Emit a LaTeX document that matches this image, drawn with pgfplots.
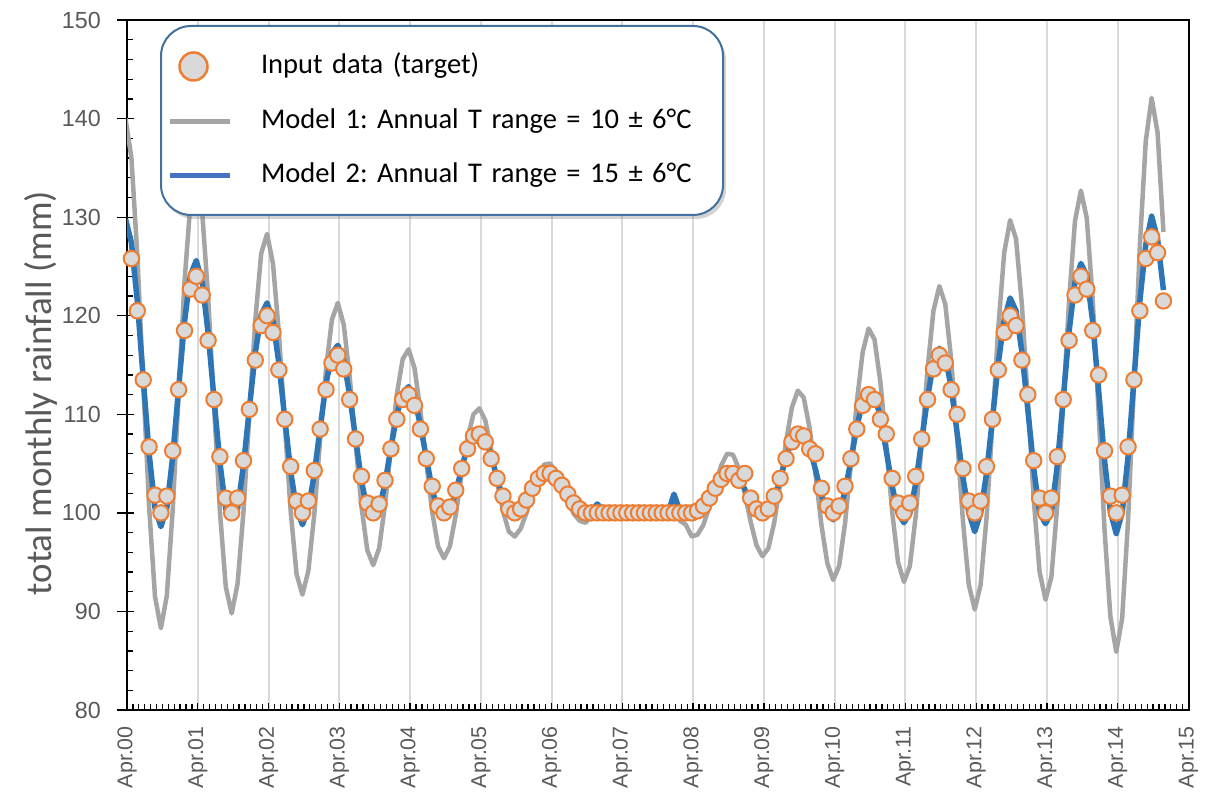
\documentclass[border=0pt]{standalone}
\usepackage{fontspec}
\usepackage{pgfplots}
\usepackage{pgfplotstable}
\pgfplotsset{compat=1.18}
\usetikzlibrary{shadows}
\setmainfont{Carlito}
\newfontfamily\arial{Liberation Sans}

\definecolor{mkfill}{HTML}{D9D9D9}
\definecolor{mkorange}{HTML}{ED7D31}
\definecolor{m1gray}{HTML}{A5A5A5}
\definecolor{m2blue}{HTML}{2E75B6}
\definecolor{legblue}{HTML}{4472C4}
\definecolor{frameblue}{HTML}{41719C}
\definecolor{gridgray}{HTML}{D9D9D9}
\definecolor{txtgray}{HTML}{595959}

% the legend box shadow must not reach the legend images
\makeatletter
\tikzset{noshadow/.code={\let\tikz@preactions\pgfutil@empty}}
\makeatother

\pgfplotsset{
  marklegend/.style={legend image code/.code={\draw[noshadow,##1] plot coordinates {(24pt,0pt)};}},
  linelegend/.style={legend image code/.code={\draw[noshadow,##1] (0pt,0pt) -- (60pt,0pt);}},
}

% k = months since Apr.00; d = input data, g = model 1, b = model 2
\pgfplotstableread{
k d g b
0 128.0 140.0 129.8
1 125.8 136.0 127.4
2 120.5 126.2 121.5
3 113.5 113.2 113.6
4 106.7 100.6 106.0
5 101.8 91.5 100.5
6 100.0 88.3 98.6
7 101.7 91.6 100.5
8 106.3 100.3 105.7
9 112.5 112.0 112.6
10 118.5 123.4 119.4
11 122.7 131.4 124.1
12 124.0 133.9 125.6
13 122.1 130.5 123.4
14 117.5 122.0 118.3
15 111.5 110.9 111.6
16 105.7 100.2 105.1
17 101.5 92.5 100.4
18 100.0 89.8 99.5
19 101.5 92.8 100.4
20 105.3 100.1 104.8
21 110.5 110.0 110.6
22 115.5 119.5 116.2
23 119.0 126.3 120.1
24 120.0 128.3 121.3
25 118.3 125.3 119.5
26 114.5 118.3 115.2
27 109.5 109.1 109.6
28 104.7 100.2 104.2
29 101.2 93.8 100.4
30 100.0 91.7 98.8
31 101.2 94.1 100.4
32 104.3 99.8 103.9
33 108.5 107.4 108.6
34 112.5 114.6 113.1
35 115.2 119.6 116.2
36 116.0 121.3 117.0
37 114.6 119.1 115.5
38 111.5 113.9 112.0
39 107.5 107.1 107.6
40 103.7 100.7 103.3
41 101.0 96.2 100.3
42 100.0 94.7 99.5
43 100.9 96.4 100.3
44 103.3 100.8 103.0
45 106.5 106.5 106.6
46 109.5 112.0 109.9
47 111.5 115.6 112.2
48 112.0 116.6 112.8
49 110.9 114.7 111.6
50 108.5 110.4 108.9
51 105.5 105.1 105.6
52 102.7 100.1 102.4
53 100.7 96.6 100.2
54 100.0 95.4 99.5
55 100.6 96.6 100.2
56 102.3 99.8 102.1
57 104.5 103.9 104.5
58 106.5 107.6 106.8
59 107.8 110.0 108.3
60 108.0 110.6 108.5
61 107.2 109.4 107.6
62 105.5 106.5 105.8
63 103.5 103.2 103.5
64 101.7 100.2 101.5
65 100.4 98.1 100.1
66 100.0 97.6 99.7
67 100.4 98.4 100.1
68 101.3 100.0 101.2
69 102.5 102.1 102.5
70 103.5 103.9 103.7
71 104.0 104.9 104.3
72 104.0 105.0 104.3
73 103.5 104.1 103.6
74 102.8 102.7 102.6
75 101.9 101.2 101.5
76 101.0 99.9 100.6
77 100.4 99.2 100.0
78 100.0 99.0 99.9
79 100.0 99.6 100.2
80 100.0 100.5 100.9
81 100.0 100.0 100.3
82 100.0 99.8 100.0
83 100.0 99.9 100.1
84 100.0 100.2 100.4
85 100.0 99.8 100.0
86 100.0 99.7 99.9
87 100.0 99.6 99.8
88 100.0 99.6 99.8
89 100.0 99.7 99.9
90 100.0 99.5 99.7
91 100.0 99.4 99.6
92 100.0 99.9 100.0
93 100.0 101.5 101.9
94 100.0 99.2 100.2
95 100.0 98.8 99.9
96 100.0 97.6 99.9
97 100.2 97.8 100.0
98 100.7 98.8 100.5
99 101.5 100.6 101.5
100 102.5 102.8 102.5
101 103.4 104.8 103.6
102 104.0 106.0 104.2
103 104.0 105.9 104.2
104 103.3 104.5 103.6
105 104.0 102.0 102.4
106 101.5 99.1 101.1
107 100.4 96.7 100.0
108 100.0 95.6 99.6
109 100.4 96.4 100.0
110 101.7 99.0 101.4
111 103.5 102.9 103.4
112 105.5 107.2 105.6
113 107.2 110.7 107.4
114 108.0 112.4 108.4
115 107.8 111.7 108.1
116 106.5 108.6 106.6
117 106.0 103.9 104.4
118 102.5 98.8 101.9
119 100.7 94.9 100.0
120 100.0 93.2 99.3
121 100.7 94.6 100.0
122 102.7 98.9 102.2
123 105.5 104.9 105.3
124 108.5 111.2 108.7
125 110.9 116.3 111.3
126 112.0 118.7 112.5
127 111.5 117.6 112.0
128 109.5 113.3 109.7
129 108.0 106.9 106.3
130 103.5 100.1 102.7
131 101.0 95.0 100.0
132 100.0 93.0 99.0
133 101.0 94.6 100.0
134 103.7 99.7 103.0
135 107.5 107.0 107.3
136 111.5 114.6 111.7
137 114.6 120.5 115.2
138 116.0 123.0 116.7
139 115.2 121.2 115.8
140 112.5 115.6 112.8
141 110.0 107.6 108.2
142 104.5 99.2 103.6
143 101.2 92.7 100.0
144 100.0 90.2 98.1
145 101.2 92.7 100.0
146 104.7 99.5 104.0
147 109.5 109.0 109.5
148 114.5 118.8 115.2
149 118.3 126.4 119.6
150 120.0 129.7 121.8
151 119.0 127.8 120.5
152 115.5 121.1 116.3
153 112.0 111.4 110.5
154 105.3 101.4 104.5
155 101.5 94.0 100.0
156 100.0 91.2 98.9
157 101.5 93.5 100.0
158 105.7 100.8 104.8
159 111.5 111.0 111.5
160 117.5 121.6 118.4
161 122.1 129.6 123.4
162 124.0 132.7 125.3
163 122.7 129.9 124.1
164 118.5 121.7 119.4
165 114.0 110.2 112.5
166 106.3 98.4 105.4
167 101.7 89.5 100.1
168 100.0 85.9 97.9
169 101.8 89.3 100.0
170 106.7 99.2 105.7
171 113.5 113.0 113.5
172 120.5 127.1 121.5
173 125.8 137.7 127.2
174 128.0 142.1 130.1
175 126.4 138.6 127.8
176 121.5 128.5 122.6
}\rain

\begin{document}
\frenchspacing
\begin{tikzpicture}
\useasboundingbox (0,0) rectangle (1216pt,-798pt);
\begin{axis}[
  at={(127pt,-710pt)}, anchor=south west,
  scale only axis, width=1061.5pt, height=690pt,
  xmin=0.25, xmax=180.25, ymin=80, ymax=150,
  axis line style={black, line width=2pt},
  tick pos=left,
  tick align=inside,
  major tick length=7pt, minor tick length=6pt,
  tick style={black, line width=1.3pt},
  xtick={0.25,12.25,...,180.25},
  xticklabels={Apr.00,Apr.01,Apr.02,Apr.03,Apr.04,Apr.05,Apr.06,Apr.07,Apr.08,Apr.09,Apr.10,Apr.11,Apr.12,Apr.13,Apr.14,Apr.15},
  minor x tick num=11,
  ytick={80,90,...,150},
  minor y tick num=4,
  extra y ticks={80,90,...,150},
  extra y tick labels={},
  extra y tick style={tick align=outside, major tick length=9.5pt},
  xmajorgrids,
  major x grid style={gridgray, line width=2pt},
  /pgf/number format/assume math mode=true,
  xticklabel style={rotate=90, anchor=east, inner sep=0pt, font=\arial\fontsize{21.4}{22}\selectfont, text=txtgray},
  xticklabel shift=16pt,
  yticklabel style={anchor=east, inner sep=0pt, font=\arial\fontsize{23.3}{24}\selectfont, text=txtgray},
  yticklabel shift=26pt,
  ylabel={total monthly rainfall (mm)},
  ylabel style={at={(axis description cs:-0.081,0.459)}, anchor=center, font=\fontsize{37}{40}\selectfont, text=txtgray},
  legend cell align=left,
  legend style={at={(axis description cs:0.0311,0.9928)}, anchor=north west,
    draw=frameblue, line width=2pt, rounded corners=30pt, fill=white,
    drop shadow={shadow xshift=3pt, shadow yshift=-4pt, opacity=0.35},
    inner xsep=6pt, inner ysep=26.5pt, row sep=28pt,
    font=\fontsize{28.5}{30}\selectfont, text=black,
    nodes={inner sep=0pt, text width=456pt, text height=20pt, text depth=6pt, align=left},
    /tikz/every odd column/.append style={column sep=29pt}},
]
\addlegendimage{only marks, mark=*, mark size=14pt, mark options={fill=mkfill, draw=mkorange, line width=2.5pt}, marklegend}
\addlegendimage{m1gray, line width=5pt, linelegend}
\addlegendimage{legblue, line width=5pt, linelegend}

\addplot[m1gray, line width=4.5pt, line join=round, forget plot] table[x=k, y=g] {\rain};
\addplot[m2blue, line width=5.5pt, line join=round, forget plot] table[x=k, y=b] {\rain};
\addplot[only marks, mark=*, mark size=7.7pt, mark options={fill=mkfill, draw=mkorange, line width=2pt},
  skip coords between index={0}{1}, forget plot] table[x=k, y=d] {\rain};

\legend{Input data (target), Model 1: Annual T range = 10 ± 6°C, Model 2: Annual T range = 15 ± 6°C}
\end{axis}
\end{tikzpicture}
\end{document}
